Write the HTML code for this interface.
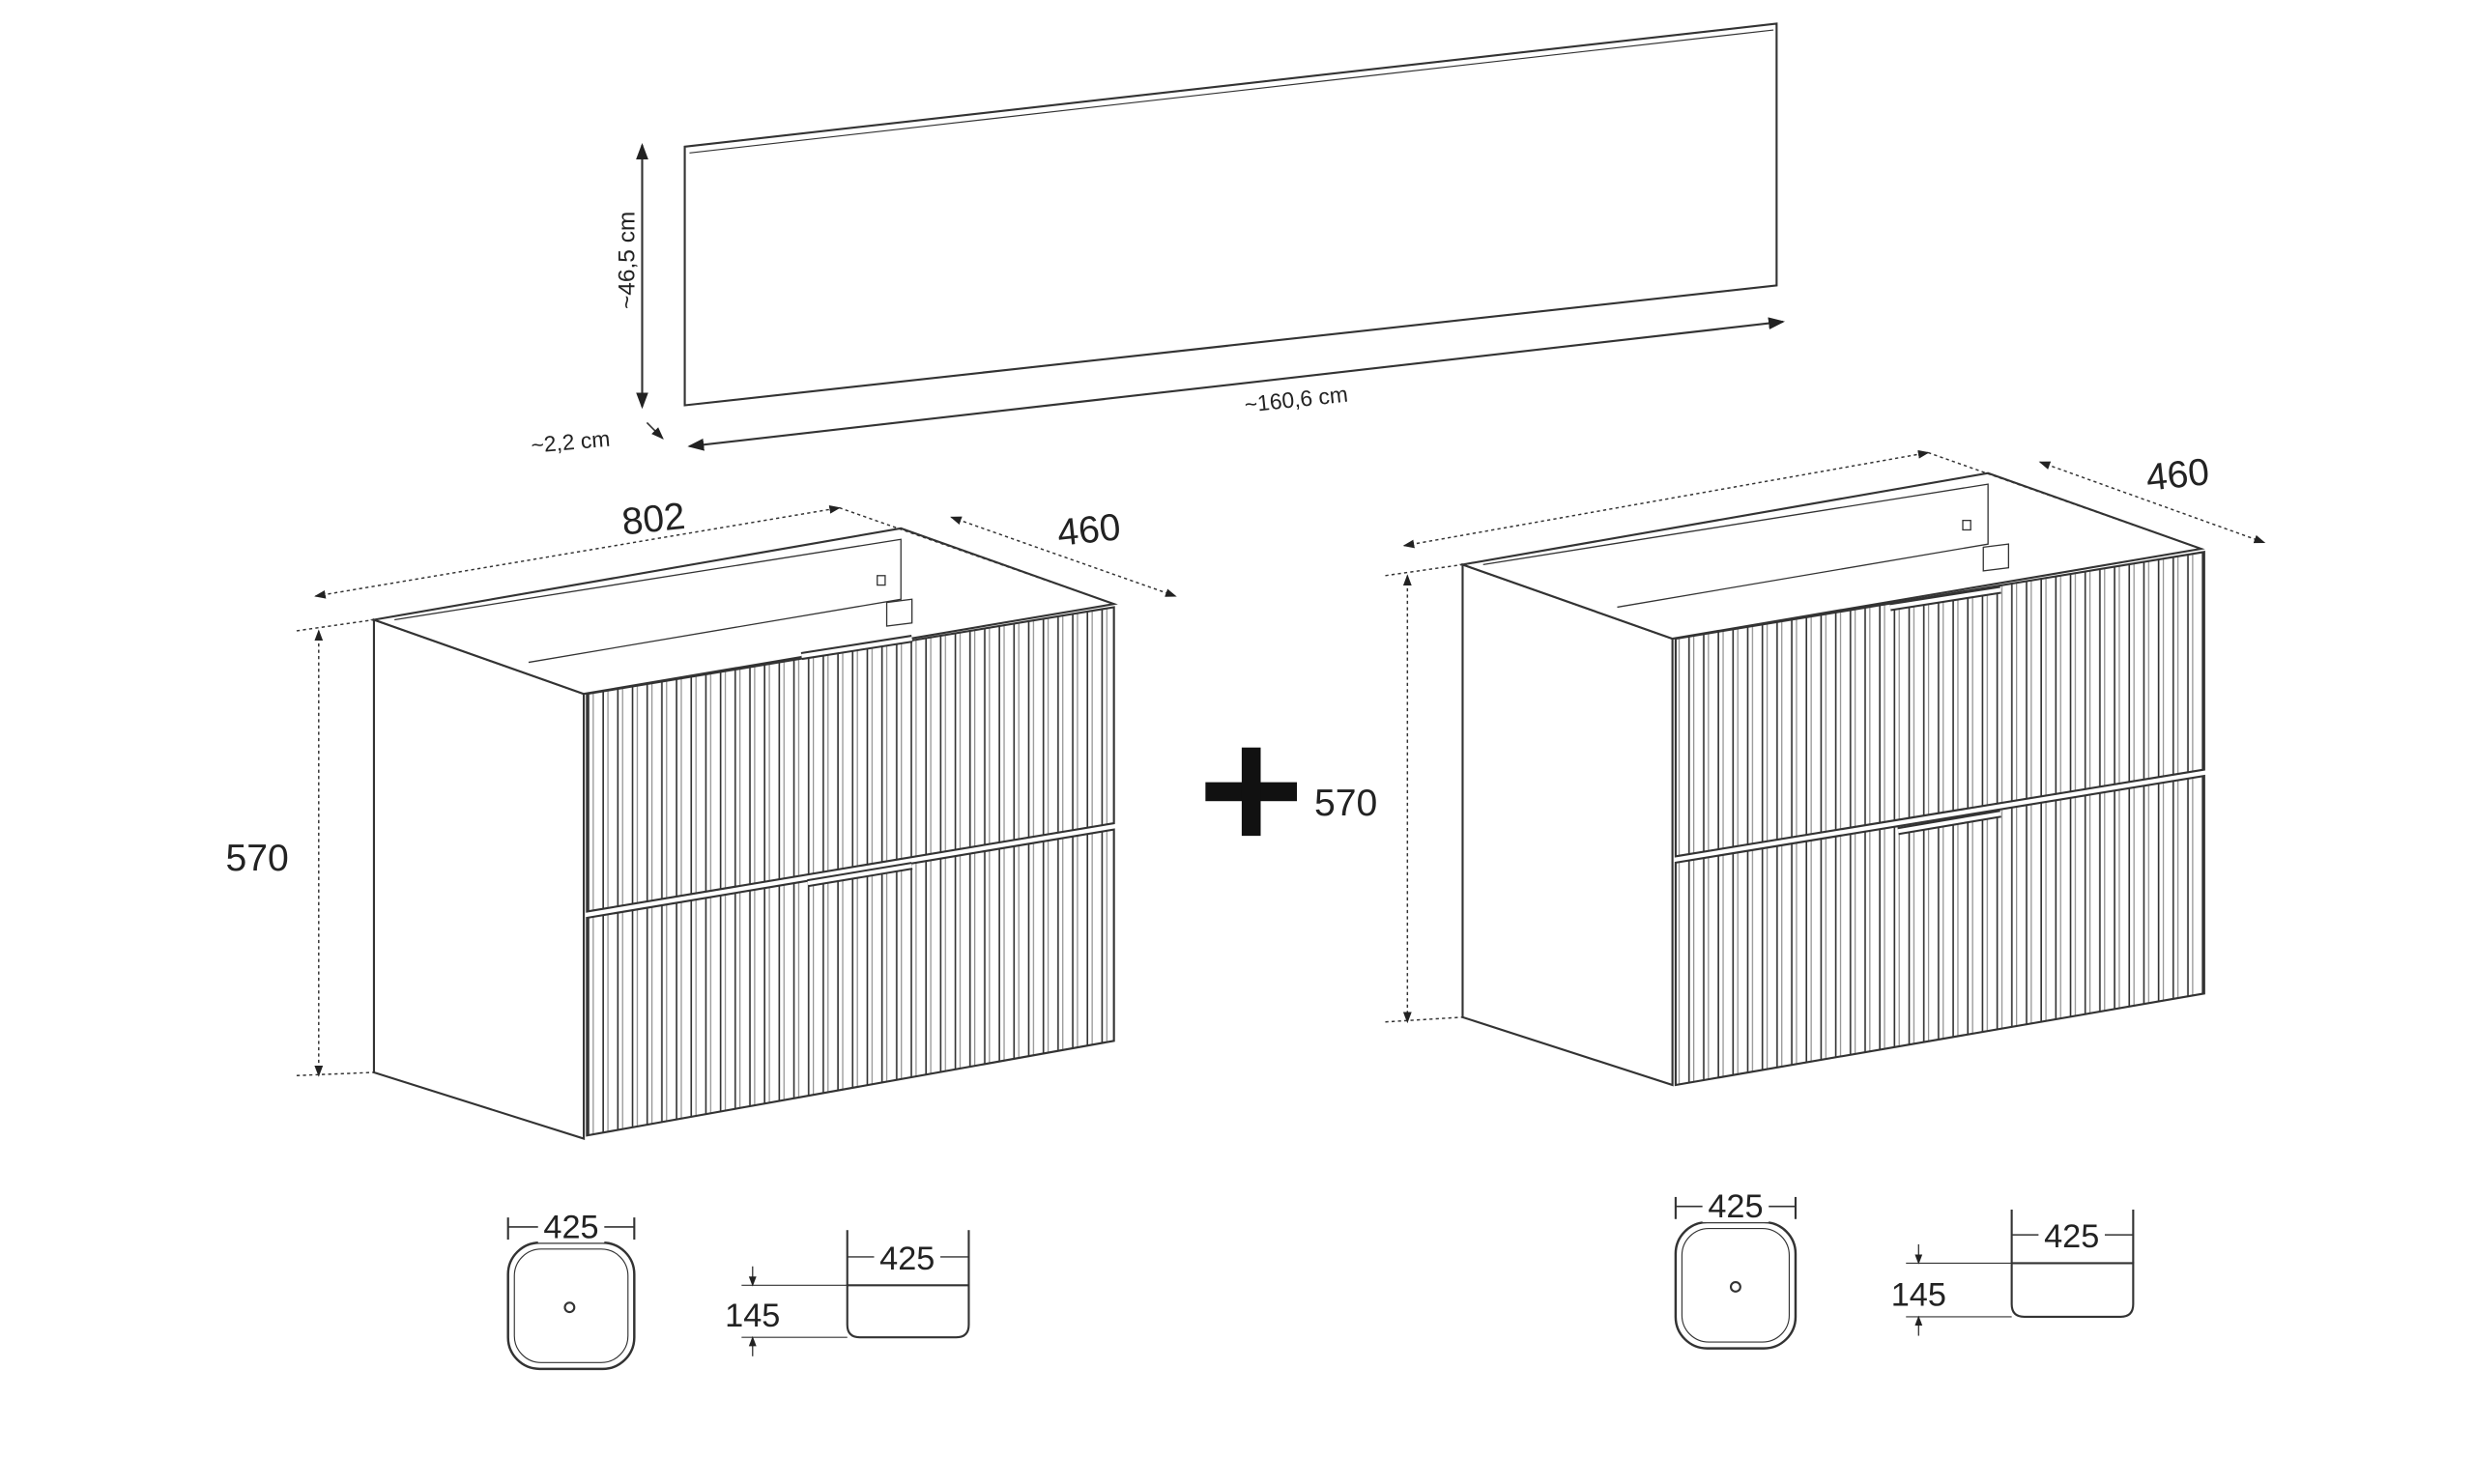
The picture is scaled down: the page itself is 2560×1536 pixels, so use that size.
<!DOCTYPE html>
<html><head><meta charset="utf-8"><style>
html,body{margin:0;padding:0;background:#fff;width:2560px;height:1536px;overflow:hidden}
svg{display:block}
text{font-family:"Liberation Sans",sans-serif;fill:#222}
</style></head><body>
<svg width="2560" height="1536" viewBox="0 0 1568 941" preserveAspectRatio="none" xmlns="http://www.w3.org/2000/svg">
<defs>
<pattern id="fl" patternUnits="userSpaceOnUse" width="9.3" height="10">
<rect width="9.3" height="10" fill="#fff"/>
<line x1="1" y1="0" x2="1" y2="10" stroke="#333" stroke-width="1"/>
<line x1="4" y1="0" x2="4" y2="10" stroke="#888" stroke-width="0.7"/>
</pattern>
<marker id="ar" markerWidth="8" markerHeight="8" refX="7" refY="4" orient="auto"><path d="M0,1 L8,4 L0,7 Z" fill="#222"/></marker>
<marker id="al" markerWidth="8" markerHeight="8" refX="1" refY="4" orient="auto"><path d="M8,1 L0,4 L8,7 Z" fill="#222"/></marker>
</defs>
<rect width="1568" height="941" fill="#fff"/>
<g fill="none" stroke="#333" stroke-width="1.3">
<polygon points="434,93 1126,15 1126,181 434,257" fill="#fff"/>
<line x1="437" y1="97" x2="1124" y2="19" stroke-width="0.7"/>
<line x1="407" y1="92" x2="407" y2="258" marker-start="url(#al)" marker-end="url(#ar)"/>
<line x1="437" y1="283" x2="1130" y2="204" marker-start="url(#al)" marker-end="url(#ar)"/>
<line x1="410" y1="268" x2="420" y2="278" marker-end="url(#ar)" stroke-width="1"/>

<polygon points="237,393 370,440 370,722 237,680" fill="#fff"/>
<polygon points="237,393 571,335 706,383 370,440" fill="#fff"/>
<polyline points="250,393 571,342 571,380 335,420" stroke-width="0.8"/>
<polygon points="372,440 706,385 706,522 372,578" fill="url(#fl)"/>
<polygon points="372,582 706,526 706,660 372,720" fill="url(#fl)"/>
<rect x="556" y="365" width="5" height="6" stroke-width="0.8"/>
<polygon points="562,382 578,380 578,395 562,397" fill="#fff" stroke-width="0.8"/>
<line x1="508" y1="416" x2="578" y2="405" stroke-width="5" stroke="#333"/>
<line x1="508" y1="416" x2="578" y2="405" stroke-width="2.5" stroke="#fff"/>
<line x1="512" y1="560" x2="578" y2="549" stroke-width="5" stroke="#333"/>
<line x1="512" y1="560" x2="578" y2="549" stroke-width="2.5" stroke="#fff"/>
<g stroke-dasharray="2,2" stroke-width="0.9">
<line x1="200" y1="378" x2="532" y2="322" marker-start="url(#al)" marker-end="url(#ar)"/>
<line x1="532" y1="322" x2="706" y2="383"/>
<line x1="603" y1="328" x2="745" y2="378" marker-start="url(#al)" marker-end="url(#ar)"/>
<line x1="202" y1="400" x2="202" y2="682" marker-start="url(#al)" marker-end="url(#ar)"/>
<line x1="188" y1="400" x2="237" y2="393"/><line x1="188" y1="682" x2="237" y2="680"/>
</g>

<rect x="764" y="496" width="58" height="12" fill="#111" stroke="none"/>
<rect x="787" y="474" width="12" height="56" fill="#111" stroke="none"/>

<polygon points="927,358 1060,405 1060,688 927,645" fill="#fff"/>
<polygon points="927,358 1260,300 1395,348 1060,405" fill="#fff"/>
<polyline points="940,358 1260,307 1260,345 1025,385" stroke-width="0.8"/>
<polygon points="1062,405 1397,350 1397,488 1062,543" fill="url(#fl)"/>
<polygon points="1062,547 1397,492 1397,630 1062,688" fill="url(#fl)"/>
<rect x="1244" y="330" width="5" height="6" stroke-width="0.8"/>
<polygon points="1257,347 1273,345 1273,360 1257,362" fill="#fff" stroke-width="0.8"/>
<line x1="1198" y1="385" x2="1268" y2="374" stroke-width="5"/>
<line x1="1198" y1="385" x2="1268" y2="374" stroke-width="2.5" stroke="#fff"/>
<line x1="1203" y1="527" x2="1268" y2="516" stroke-width="5"/>
<line x1="1203" y1="527" x2="1268" y2="516" stroke-width="2.5" stroke="#fff"/>
<g stroke-dasharray="2,2" stroke-width="0.9">
<line x1="890" y1="346" x2="1222" y2="287" marker-start="url(#al)" marker-end="url(#ar)"/>
<line x1="1222" y1="287" x2="1395" y2="348"/>
<line x1="1293" y1="293" x2="1435" y2="344" marker-start="url(#al)" marker-end="url(#ar)"/>
<line x1="892" y1="365" x2="892" y2="648" marker-start="url(#al)" marker-end="url(#ar)"/>
<line x1="878" y1="365" x2="927" y2="358"/><line x1="878" y1="648" x2="927" y2="645"/>
</g>

<rect x="322" y="788" width="80" height="80" rx="20" stroke-width="1.5"/>
<rect x="326" y="792" width="72" height="72" rx="17" stroke-width="0.7"/>
<circle cx="361" cy="829" r="3"/>
<line x1="322" y1="778" x2="402" y2="778" stroke-width="1"/><line x1="322" y1="772" x2="322" y2="786"/><line x1="402" y1="772" x2="402" y2="786"/>
<path d="M537,815 L614,815 L614,840 Q614,848 606,848 L545,848 Q537,848 537,840 Z" stroke-width="1.3"/>
<line x1="537" y1="780" x2="537" y2="815"/><line x1="614" y1="780" x2="614" y2="815"/>
<line x1="537" y1="797" x2="614" y2="797" stroke-width="0.9"/>
<line x1="470" y1="815" x2="537" y2="815" stroke-width="0.7"/><line x1="470" y1="848" x2="537" y2="848" stroke-width="0.7"/>
<line x1="477" y1="803" x2="477" y2="815" marker-end="url(#ar)" stroke-width="0.8"/>
<line x1="477" y1="860" x2="477" y2="848" marker-end="url(#ar)" stroke-width="0.8"/>

<rect x="1062" y="775" width="76" height="80" rx="20" stroke-width="1.5"/>
<rect x="1066" y="779" width="68" height="72" rx="17" stroke-width="0.7"/>
<circle cx="1100" cy="816" r="3"/>
<line x1="1062" y1="765" x2="1138" y2="765" stroke-width="1"/><line x1="1062" y1="759" x2="1062" y2="773"/><line x1="1138" y1="759" x2="1138" y2="773"/>
<path d="M1275,801 L1352,801 L1352,827 Q1352,835 1344,835 L1283,835 Q1275,835 1275,827 Z" stroke-width="1.3"/>
<line x1="1275" y1="767" x2="1275" y2="801"/><line x1="1352" y1="767" x2="1352" y2="801"/>
<line x1="1275" y1="783" x2="1352" y2="783" stroke-width="0.9"/>
<line x1="1208" y1="801" x2="1275" y2="801" stroke-width="0.7"/><line x1="1208" y1="835" x2="1275" y2="835" stroke-width="0.7"/>
<line x1="1216" y1="789" x2="1216" y2="801" marker-end="url(#ar)" stroke-width="0.8"/>
<line x1="1216" y1="847" x2="1216" y2="835" marker-end="url(#ar)" stroke-width="0.8"/>
</g>

<g fill="#fff">
<rect x="341" y="768" width="42" height="20"/>
<rect x="554" y="787" width="42" height="20"/>
<rect x="457" y="822" width="40" height="22"/>
<rect x="1079" y="755" width="42" height="20"/>
<rect x="1292" y="773" width="42" height="20"/>
<rect x="1196" y="809" width="40" height="22"/>
</g>
<text x="402" y="165" font-size="15" text-anchor="middle" transform="rotate(-90 402 165)">~46,5 cm</text>
<text x="822" y="258" font-size="14" text-anchor="middle" transform="rotate(-6 822 258)">~160,6 cm</text>
<text x="362" y="285" font-size="14" text-anchor="middle" transform="rotate(-5 362 285)">~2,2 cm</text>
<text x="415" y="337" font-size="24" text-anchor="middle" transform="rotate(-6 415 337)">802</text>
<text x="691" y="344" font-size="24" text-anchor="middle" transform="rotate(-6 691 344)">460</text>
<text x="163" y="552" font-size="24" text-anchor="middle">570</text>
<text x="853" y="517" font-size="24" text-anchor="middle">570</text>
<text x="1381" y="309" font-size="24" text-anchor="middle" transform="rotate(-6 1381 309)">460</text>
<text x="362" y="785" font-size="21" text-anchor="middle">425</text>
<text x="575" y="805" font-size="21" text-anchor="middle">425</text>
<text x="477" y="841" font-size="21" text-anchor="middle">145</text>
<text x="1100" y="772" font-size="21" text-anchor="middle">425</text>
<text x="1313" y="791" font-size="21" text-anchor="middle">425</text>
<text x="1216" y="828" font-size="21" text-anchor="middle">145</text>
</svg>
</body></html>
